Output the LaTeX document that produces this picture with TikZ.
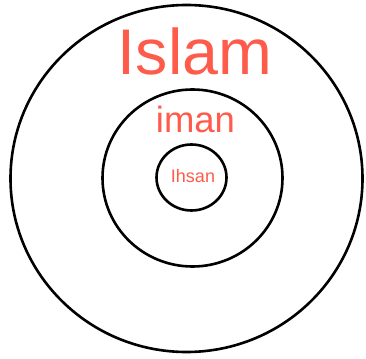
\documentclass[tikz,border=0pt]{standalone}
\usepackage{fontspec}
\setmainfont{Liberation Sans}
\usepackage{xcolor}
\definecolor{FaithRed}{HTML}{FF5B4B}
\tikzset{
  ring/.style={draw=black, line width=2.6pt},
  faithlabel/.style={text=FaithRed, anchor=base, inner sep=0pt}
}

\begin{document}
\begin{tikzpicture}[x=1pt, y=-1pt]
    \useasboundingbox (0,0) rectangle (366,358);
    % three rings
    \draw[ring] (186.5,178.5) ellipse [x radius=176, y radius=173.5];
    \draw[ring] (192.5,178) ellipse [x radius=90, y radius=88.5];
    \draw[ring] (191.5,177.5) ellipse [x radius=35, y radius=33];

    \node[faithlabel, font=\fontsize{64.5}{70}\selectfont] (islam) at (195,75) {Islam};
    \node[faithlabel, font=\fontsize{36.5}{40}\selectfont] (iman) at (195.5,133) {iman};
    \node[faithlabel, font=\fontsize{18}{20}\selectfont] (ihsan) at (193,182.5) {Ihsan};
\end{tikzpicture}
\end{document}
